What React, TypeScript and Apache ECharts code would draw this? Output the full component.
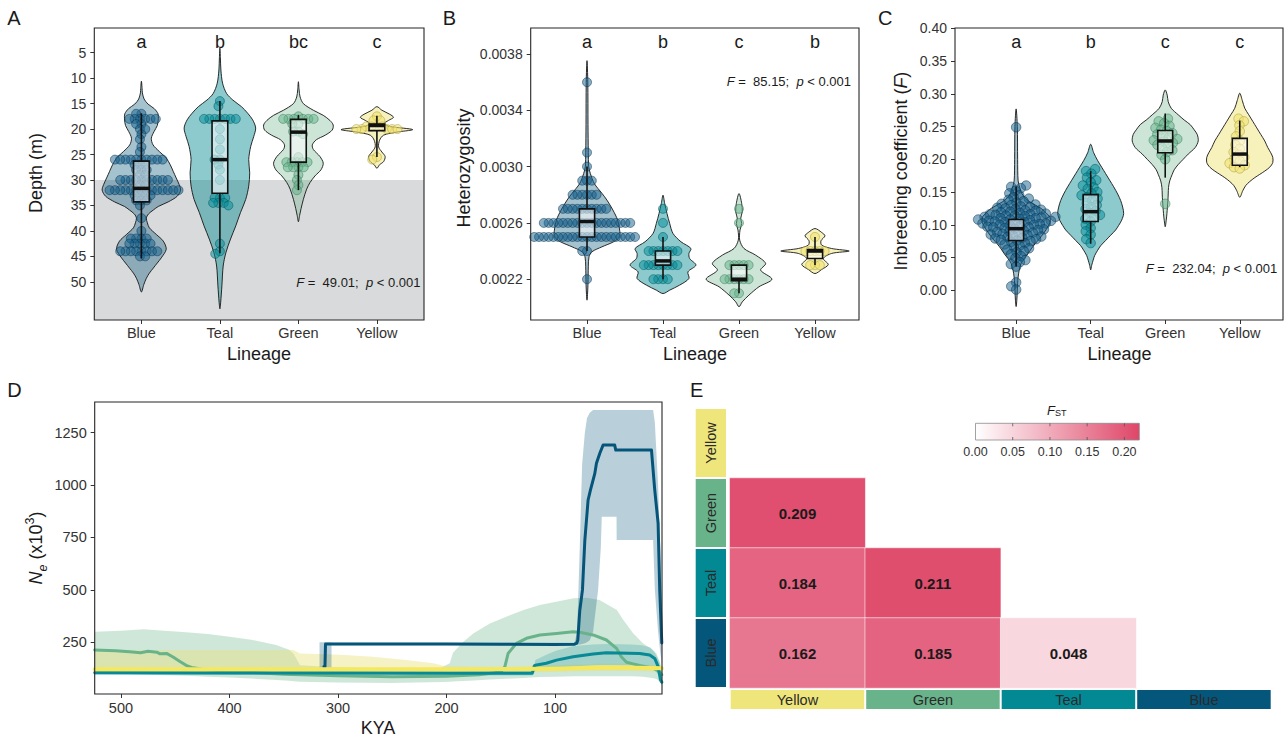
import React, { useEffect, useRef } from 'react';
import * as echarts from 'echarts';

const FONT = '"Liberation Sans", Arial, Helvetica, sans-serif';
const TXT = '#333333';

const lineages = ['Blue', 'Teal', 'Green', 'Yellow'];

// ---------------- Panel A : depth ----------------
const depthTicks = [5, 10, 15, 20, 25, 30, 35, 40, 45, 50];
const depthLetters = ['a', 'b', 'bc', 'c'];
const depthShadeFrom = 30;
// [depth, number of individuals]
const depthBlueCounts = [[17, 2], [18, 6], [19, 2], [20, 2], [21, 1], [22, 1], [23.5, 1], [24.5, 1], [26, 10], [27, 3], [28, 3], [29, 2], [30, 10], [31, 2], [32, 14], [33, 4], [34, 3], [35, 1], [37.5, 1], [40, 1], [41.5, 4], [42.5, 5], [44, 8], [45, 2]];
const depthTealCounts = [[14.5, 1], [15.5, 1], [18, 7], [20, 1], [22, 1], [24, 1], [26, 2], [27, 1], [28, 1], [30, 1], [33.5, 3], [34.5, 3], [35, 1], [42.5, 1], [44, 1], [44.5, 1]];
const depthGreenCounts = [[17.5, 1], [18, 6], [19, 2], [20.5, 2], [21, 1], [25.5, 1], [26.5, 5], [27.5, 4], [29, 1], [30, 1], [31, 1], [32, 1]];
const depthYellowCounts = [[17.5, 1], [18.3, 2], [19.5, 4], [20, 5], [25.5, 1], [26, 1]];
// violin outlines: [depth, relative density]
const depthViolinBlue = [[10.6, 0], [12, 0.7], [12.9, 1], [14.1, 2.7], [15.1, 6.7], [16, 13], [17, 16.7], [18, 17], [19.3, 16], [20.5, 12.7], [21.8, 10], [23.1, 11.7], [24.4, 18], [25.7, 25], [27, 29], [28.3, 32], [29.6, 35], [30.9, 38], [32, 39.5], [33.2, 36], [34.3, 27], [35.2, 17], [35.9, 12], [36.7, 7], [37.5, 5], [38.4, 6], [39.4, 8], [40.7, 15], [42, 22], [43.6, 25], [45.3, 20], [46.3, 16], [47.3, 12], [48.3, 8], [49.3, 5], [50.5, 2.5], [52, 0]];
const depthViolinTeal = [[4.1, 0], [6, 0.5], [8.4, 1], [11, 2.7], [13, 6.7], [14.3, 13], [15.6, 21.7], [16.9, 28], [18.2, 33], [19.8, 36], [21.5, 34], [23.4, 31], [26, 29], [28.6, 30], [31.2, 29], [33.8, 26], [36.4, 20.7], [39, 16], [41.6, 10.7], [44.3, 6], [46.9, 3.3], [50.8, 2], [54, 0.8], [55.3, 0]];
const depthViolinGreen = [[10.7, 0], [12.3, 0.7], [13.7, 1.7], [15, 5], [16.3, 15], [17.3, 25], [18.3, 31.7], [19.2, 35], [20.2, 34], [21.2, 27], [22.1, 18], [23.1, 14], [24, 15], [25.4, 21.7], [26.7, 25], [28, 22.7], [29.2, 16.7], [30.5, 11.7], [31.8, 8.3], [33.8, 5], [35.6, 2.7], [37, 1.2], [38.2, 0]];
const depthViolinYellow = [[15.6, 0], [16.3, 5], [17.1, 13], [17.7, 16.7], [18.3, 11.7], [19, 6.7], [19.5, 13], [20.1, 36], [20.6, 20], [21.2, 6.7], [22.2, 2.7], [23.5, 1.7], [24.5, 5], [25.4, 8.3], [26.4, 6.7], [27, 2.7], [27.7, 0]];
// [lower whisker, q1, median, q3, upper whisker]
const depthBoxes = [[16.9, 26.3, 31.65, 34.3, 45.4], [14.5, 18.4, 26.0, 32.6, 44.4], [17.2, 18.1, 20.6, 26.5, 32.0], [17.4, 19.0, 19.3, 20.3, 25.5]];
const depthStat = { F: '49.01', p: '0.001' };

// ---------------- Panel B : heterozygosity ----------------
const hetTicks = [0.0022, 0.0026, 0.003, 0.0034, 0.0038];
const hetLetters = ['a', 'b', 'c', 'b'];
const hetBlueCounts = [[0.0036, 1], [0.0031, 1], [0.003, 1], [0.0029, 3], [0.0028, 6], [0.0027, 10], [0.0026, 19], [0.0025, 22], [0.0024, 2], [0.0022, 1]];
const hetTealCounts = [[0.0027, 1], [0.0026, 1], [0.0025, 1], [0.0024, 7], [0.0023, 8], [0.0022, 4]];
const hetGreenCounts = [[0.0027, 1], [0.0026, 1], [0.0023, 5], [0.0022, 6], [0.0021, 2]];
const hetYellowCounts = [[0.0025, 1], [0.0024, 5], [0.0023, 3]];
const hetViolinBlue = [[0.003753, 0], [0.0036, 0.8], [0.0033, 1], [0.0031, 1.3], [0.003, 1.7], [0.002952, 3.3], [0.00288, 7.3], [0.00281, 15], [0.002762, 20], [0.002691, 26], [0.00262, 30.7], [0.002549, 32.7], [0.002501, 32.7], [0.002466, 26.7], [0.00243, 15], [0.002395, 5], [0.002359, 2], [0.002288, 1.3], [0.00217, 1], [0.00209, 0.5], [0.002051, 0]];
const hetViolinTeal = [[0.002797, 0], [0.002738, 1.7], [0.002667, 4], [0.002596, 6.7], [0.002525, 10], [0.002466, 18], [0.002418, 28], [0.002383, 26], [0.002347, 26.7], [0.0023, 33], [0.002252, 25], [0.002205, 26], [0.002158, 16.7], [0.002122, 6.7], [0.002098, 0]];
const hetViolinGreen = [[0.002809, 0], [0.002738, 2.7], [0.002679, 3.3], [0.002632, 1.7], [0.002596, 2.7], [0.002549, 1], [0.002478, 0.7], [0.002418, 5], [0.002371, 16.7], [0.002312, 26.7], [0.002264, 21.7], [0.0022, 33], [0.002146, 20], [0.002087, 10], [0.002039, 3.3], [0.002004, 0]];
const hetViolinYellow = [[0.00256, 0], [0.002532, 6.7], [0.002508, 10], [0.002473, 6], [0.002442, 6.7], [0.002418, 16.7], [0.0024, 34.3], [0.002383, 16.7], [0.002347, 8.3], [0.002304, 13.3], [0.002269, 6.7], [0.00224, 0]];
const hetBoxes = [[0.0024, 0.0025, 0.00261, 0.0027, 0.003], [0.0022, 0.0023, 0.00233, 0.0024, 0.0025], [0.0021, 0.00219, 0.0022, 0.0023, 0.0023], [0.0023, 0.002347, 0.0024, 0.002411, 0.0025]];
const hetStat = { F: '85.15', p: '0.001' };

// ---------------- Panel C : inbreeding ----------------
const fTicks = [0, 0.05, 0.1, 0.15, 0.2, 0.25, 0.3, 0.35, 0.4];
const fLetters = ['a', 'b', 'c', 'c'];
const fBlue = [0.249, 0.160, 0.158, 0.156, 0.152, 0.148, 0.145, 0.142, 0.140, 0.138, 0.136, 0.134, 0.132, 0.131, 0.130, 0.128, 0.127, 0.126, 0.125, 0.124, 0.123, 0.122, 0.121, 0.120, 0.119, 0.118, 0.117, 0.116, 0.116, 0.115, 0.114, 0.114, 0.113, 0.112, 0.112, 0.111, 0.110, 0.110, 0.109, 0.108, 0.108, 0.107, 0.106, 0.106, 0.105, 0.104, 0.104, 0.103, 0.102, 0.102, 0.101, 0.100, 0.100, 0.099, 0.098, 0.097, 0.096, 0.096, 0.095, 0.094, 0.093, 0.092, 0.091, 0.090, 0.089, 0.088, 0.087, 0.086, 0.085, 0.084, 0.083, 0.082, 0.081, 0.080, 0.079, 0.078, 0.077, 0.076, 0.075, 0.074, 0.072, 0.070, 0.068, 0.066, 0.064, 0.062, 0.060, 0.058, 0.055, 0.052, 0.049, 0.046, 0.043, 0.040, 0.036, 0.012, 0.006, 0.001];
const fTeal = [0.185, 0.182, 0.178, 0.172, 0.168, 0.165, 0.160, 0.157, 0.155, 0.150, 0.148, 0.145, 0.142, 0.140, 0.137, 0.133, 0.130, 0.127, 0.124, 0.121, 0.118, 0.115, 0.112, 0.109, 0.105, 0.100, 0.095, 0.090, 0.085, 0.078, 0.072];
const fGreen = [0.262, 0.258, 0.255, 0.251, 0.248, 0.245, 0.243, 0.240, 0.238, 0.236, 0.233, 0.231, 0.229, 0.227, 0.225, 0.222, 0.220, 0.217, 0.214, 0.211, 0.207, 0.200, 0.132];
const fYellow = [0.262, 0.258, 0.252, 0.243, 0.235, 0.228, 0.222, 0.216, 0.211, 0.207, 0.203, 0.200, 0.197, 0.194, 0.191, 0.188, 0.186];
const fViolinBlue = [[0.277, 0], [0.25, 1.2], [0.2, 1.5], [0.167, 2], [0.155, 4], [0.147, 6], [0.138, 11], [0.132, 17], [0.125, 25], [0.121, 28], [0.115, 32], [0.111, 34], [0.104, 34], [0.095, 31], [0.086, 27], [0.078, 23], [0.071, 19], [0.063, 15], [0.056, 12], [0.048, 8], [0.041, 5], [0.03, 3], [0.02, 2], [0.01, 1.5], [0, 1.2], [-0.015, 0.7], [-0.025, 0]];
const fViolinTeal = [[0.223, 0], [0.21, 3], [0.198, 7], [0.188, 11], [0.178, 15], [0.168, 19], [0.158, 23], [0.147, 27], [0.137, 30], [0.127, 32], [0.117, 33], [0.107, 31], [0.099, 28], [0.092, 25], [0.084, 20], [0.076, 15], [0.068, 10], [0.061, 7], [0.053, 4], [0.046, 2.5], [0.038, 1], [0.031, 0]];
const fViolinGreen = [[0.306, 0], [0.298, 2], [0.288, 3], [0.278, 6], [0.268, 13], [0.26, 19], [0.253, 25], [0.245, 29], [0.238, 32], [0.228, 33], [0.218, 30], [0.208, 23], [0.2, 18], [0.192, 13], [0.184, 9], [0.177, 7], [0.167, 4.5], [0.157, 3.3], [0.147, 3], [0.137, 2.7], [0.127, 2.2], [0.117, 1.7], [0.107, 1], [0.097, 0]];
const fViolinYellow = [[0.301, 0], [0.29, 2.5], [0.278, 5], [0.268, 9], [0.258, 13], [0.248, 17], [0.238, 21], [0.228, 25], [0.218, 28], [0.21, 31], [0.203, 33], [0.195, 33], [0.188, 30], [0.182, 25], [0.177, 20], [0.172, 15], [0.166, 10], [0.16, 6], [0.152, 3], [0.142, 0]];
const fBoxes = [[0.036, 0.076, 0.094, 0.108, 0.158], [0.071, 0.105, 0.12, 0.146, 0.182], [0.172, 0.21, 0.228, 0.244, 0.27], [0.188, 0.191, 0.208, 0.232, 0.259]];
const fStat = { F: '232.04', p: '0.001' };

// ---------------- Panel D : Ne through time ----------------
const kyaTicks = [100, 200, 300, 400, 500];
const neTicks = [250, 500, 750, 1000, 1250];
// [KYA, Ne x10^3]
const neBlue = [[313, 134], [312, 134], [311.5, 242], [250, 242], [200, 242], [150, 241], [100, 240], [82, 241], [80, 246], [79, 260], [77.2, 400], [74.7, 500], [72.5, 738], [69.5, 929], [67.3, 977], [63.3, 1056], [61.8, 1104], [58.7, 1152], [55.7, 1191], [45, 1191], [44, 1167], [11.1, 1167], [8.1, 977], [5, 819], [3.5, 500], [1.6, 247]];
const neTeal = [[524.2, 105], [400, 104], [300, 103], [200, 102], [121, 102], [119, 138], [117, 142], [108, 150], [98.6, 165], [83.3, 181], [64.9, 194], [52.6, 200], [21.9, 197], [12.7, 189], [8.1, 173], [5, 135], [2.8, 70], [1.6, 60]];
const neGreen = [[524.2, 213], [505, 210], [492, 205], [482, 200], [475, 207], [467, 203], [464, 195], [458, 197], [452, 180], [446, 160], [440, 140], [435, 130], [425, 121], [410, 115], [390, 110], [350, 98], [300, 90], [250, 86], [200, 88], [170, 95], [150, 108], [146.2, 134], [143.2, 197], [135.5, 245], [126.3, 269], [114, 285], [98.6, 292], [83.3, 300], [77.2, 298], [64.9, 285], [52.6, 261], [43.3, 221], [38.9, 181], [34.1, 155], [28, 147], [21.9, 139], [9.6, 126], [3.5, 110], [1.6, 95]];
const neYellow = [[524.2, 121], [400, 121], [300, 121], [200, 121], [150, 122], [100, 124], [60, 128], [30, 128], [10, 127], [1.6, 126]];
// [KYA, lower, upper]
const bandBlue = [[317, 130, 250], [306, 130, 250], [305.9, 236, 248], [82, 236, 248], [79.6, 238, 300], [77.2, 240, 700], [75, 242, 1100], [72.5, 245, 1250], [70.5, 250, 1320], [68, 260, 1345], [64.9, 300, 1358], [60.3, 500, 1358], [57.8, 700, 1358], [56.9, 849, 1358], [43.3, 849, 1358], [43.2, 738, 1358], [9.6, 738, 1358], [8, 500, 1300], [5, 300, 1000], [3, 200, 700], [1.6, 150, 400]];
const bandGreen = [[524.2, 103, 300], [500, 100, 305], [479, 96, 312], [460, 93, 305], [440, 90, 298], [420, 86, 290], [400, 82, 277], [380, 77, 262], [357, 70, 237], [345, 66, 215], [341, 64, 197], [335, 62, 140], [300, 58, 130], [250, 56, 125], [205, 60, 128], [197, 62, 150], [194, 63, 200], [185, 65, 250], [175, 68, 293], [160, 72, 340], [145, 76, 372], [129, 80, 404], [114, 84, 428], [99, 86, 444], [83, 88, 460], [71, 88, 462], [59, 88, 452], [43, 88, 404], [37, 88, 356], [28, 88, 293], [19, 86, 245], [10, 80, 215], [6.5, 75, 197], [3, 60, 150], [1.6, 40, 120]];
const bandYellow = [[524.2, 108, 213], [450, 106, 213], [400, 104, 213], [341, 102, 213], [335, 101, 197], [298, 100, 190], [268, 100, 181], [237, 100, 165], [212, 100, 150], [200, 102, 134], [150, 105, 130], [100, 110, 140], [60, 113, 148], [30, 113, 148], [10, 110, 140], [1.6, 108, 135]];
const bandTeal = [[524.2, 95, 115], [300, 93, 113], [121, 92, 112], [118, 115, 165], [108, 125, 190], [99, 130, 210], [83, 135, 232], [65, 140, 240], [52, 142, 242], [30, 140, 240], [20, 138, 236], [12, 130, 225], [8, 115, 200], [4, 90, 160], [1.6, 60, 100]];

// ---------------- Panel E : pairwise FST ----------------
const fstCols = ['Yellow', 'Green', 'Teal', 'Blue'];
const fstRows = ['Blue', 'Teal', 'Green', 'Yellow'];
const fstPairs: [string, string, number][] = [['Yellow', 'Green', 0.209], ['Yellow', 'Teal', 0.184], ['Green', 'Teal', 0.211], ['Yellow', 'Blue', 0.162], ['Green', 'Blue', 0.185], ['Teal', 'Blue', 0.048]];
const fstLegendTicks = [0, 0.05, 0.1, 0.15, 0.2];
const fstLegendMax = 0.22;

// ---------------- styles ----------------
const violinFill = ['rgba(5,85,122,0.36)', 'rgba(3,137,147,0.45)', 'rgba(106,179,138,0.34)', 'rgba(240,229,122,0.5)'];
const pointFill = ['rgba(20,95,140,0.5)', 'rgba(0,140,150,0.5)', 'rgba(100,178,136,0.5)', 'rgba(240,226,110,0.55)'];
const pointStroke = ['rgba(8,50,80,0.85)', 'rgba(0,85,95,0.85)', 'rgba(55,125,90,0.85)', 'rgba(170,155,55,0.85)'];
const boxColor: Record<string, string> = { Yellow: '#efe67b', Green: '#69b38b', Teal: '#038993', Blue: '#05567b' };

const grids = [
  { left: 94.3, top: 28, width: 329.7, height: 292 },
  { left: 530.7, top: 28, width: 328.3, height: 292 },
  { left: 955, top: 28, width: 328, height: 292 },
  { left: 94.7, top: 402, width: 567.3, height: 292 },
  { left: 729.7, top: 408, width: 542, height: 280 },
];

function expand(pairs: number[][]): number[] {
  const out: number[] = [];
  pairs.forEach(([v, n]) => { for (let k = 0; k < n; k++) out.push(v); });
  return out;
}

function swarm(values: number[], pxPerUnit: number, d: number): number[] {
  const order = values.map((_, i) => i).sort((a, b) => values[a] - values[b]);
  const placed: { x: number; y: number }[] = [];
  const out = new Array(values.length).fill(0);
  for (const i of order) {
    const y = values[i] * pxPerUnit;
    const near = placed.filter((p) => Math.abs(p.y - y) < d);
    const cands = [0];
    near.forEach((p) => {
      const dx = Math.sqrt(Math.max(0, d * d - (p.y - y) * (p.y - y)));
      cands.push(p.x + dx, p.x - dx);
    });
    cands.sort((a, b) => Math.abs(a) - Math.abs(b) || a - b);
    let x = 0;
    for (const c of cands) {
      if (near.every((p) => (p.x - c) * (p.x - c) + (p.y - y) * (p.y - y) >= d * d - 1e-6)) { x = c; break; }
    }
    placed.push({ x, y });
    out[i] = x;
  }
  return out;
}

type Panel = {
  gi: number; xMin: number; xMax: number; yMin: number; yMax: number; inverse: boolean;
  ticks: number[]; fmt: (v: number) => string; hw: number; d: number; size: number;
  points: number[][]; violins: number[][][]; boxes: number[][]; letters: string[];
};

const panels: Panel[] = [
  {
    gi: 0, xMin: 0.4, xMax: 4.6, yMin: 0.15, yMax: 57.5, inverse: true, ticks: depthTicks, fmt: (v) => String(v), hw: 0.5, d: 5.3, size: 9,
    points: [expand(depthBlueCounts), expand(depthTealCounts), expand(depthGreenCounts), expand(depthYellowCounts)],
    violins: [depthViolinBlue, depthViolinTeal, depthViolinGreen, depthViolinYellow], boxes: depthBoxes, letters: depthLetters,
  },
  {
    gi: 1, xMin: 0.259, xMax: 4.579, yMin: 0.00191, yMax: 0.003985, inverse: false, ticks: hetTicks, fmt: (v) => v.toFixed(4), hw: 0.45, d: 4.8, size: 9,
    points: [expand(hetBlueCounts), expand(hetTealCounts), expand(hetGreenCounts), expand(hetYellowCounts)],
    violins: [hetViolinBlue, hetViolinTeal, hetViolinGreen, hetViolinYellow], boxes: hetBoxes, letters: hetLetters,
  },
  {
    gi: 2, xMin: 0.18, xMax: 4.58, yMin: -0.0455, yMax: 0.4006, inverse: false, ticks: fTicks, fmt: (v) => v.toFixed(2), hw: 0.456, d: 5.9, size: 9.5,
    points: [fBlue, fTeal, fGreen, fYellow],
    violins: [fViolinBlue, fViolinTeal, fViolinGreen, fViolinYellow], boxes: fBoxes, letters: fLetters,
  },
];

function panelSeries(p: Panel): any[] {
  const rect = grids[p.gi];
  const catPx = rect.width / (p.xMax - p.xMin);
  const pxPerUnit = rect.height / (p.yMax - p.yMin);
  const panelMax = Math.max(...p.violins.map((v) => Math.max(...v.map((q) => q[1]))));
  const out: any[] = [];
  out.push({
    type: 'custom', xAxisIndex: p.gi, yAxisIndex: p.gi, z: 2, silent: true,
    data: p.violins.map((v, i) => [i + 1, v[0][0]]),
    renderItem: (params: any, api: any) => {
      const i = params.dataIndex;
      const prof = p.violins[i];
      const cat = i + 1;
      const left = prof.map(([v, dd]) => api.coord([cat - (dd / panelMax) * p.hw, v]));
      const right = prof.filter((q) => q[1] > 0).reverse().map(([v, dd]) => api.coord([cat + (dd / panelMax) * p.hw, v]));
      return {
        type: 'polygon', shape: { points: left.concat(right), smooth: 0.3 },
        style: { fill: violinFill[i], stroke: '#151515', lineWidth: 0.9 },
      };
    },
  });
  p.points.forEach((vals, i) => {
    const off = swarm(vals, pxPerUnit, p.d);
    out.push({
      type: 'scatter', xAxisIndex: p.gi, yAxisIndex: p.gi, z: 3, silent: true, symbol: 'circle', symbolSize: p.size,
      data: vals.map((v, k) => [i + 1 + off[k] / catPx, v]),
      itemStyle: { color: pointFill[i], borderColor: pointStroke[i], borderWidth: 0.6, opacity: 1 },
    });
  });
  out.push({
    type: 'custom', xAxisIndex: p.gi, yAxisIndex: p.gi, z: 4, silent: true,
    data: p.boxes.map((b, i) => [i + 1, ...b]),
    renderItem: (params: any, api: any) => {
      const cat = api.value(0);
      const lo = api.value(1), q1 = api.value(2), med = api.value(3), q3 = api.value(4), hi = api.value(5);
      const bw = 0.1;
      const pLo = api.coord([cat, lo]);
      const pHi = api.coord([cat, hi]);
      const pQ1 = api.coord([cat, q1]);
      const pQ3 = api.coord([cat, q3]);
      const a = api.coord([cat - bw, q1]);
      const b = api.coord([cat + bw, q3]);
      const m1 = api.coord([cat - bw, med]);
      const m2 = api.coord([cat + bw, med]);
      const st = { stroke: '#111', lineWidth: 1.6 };
      return {
        type: 'group', children: [
          { type: 'line', shape: { x1: pLo[0], y1: pLo[1], x2: pQ1[0], y2: pQ1[1] }, style: st },
          { type: 'line', shape: { x1: pQ3[0], y1: pQ3[1], x2: pHi[0], y2: pHi[1] }, style: st },
          { type: 'rect', shape: { x: Math.min(a[0], b[0]), y: Math.min(a[1], b[1]), width: Math.abs(b[0] - a[0]), height: Math.abs(b[1] - a[1]) }, style: { fill: 'rgba(255,255,255,0.55)', stroke: '#111', lineWidth: 1.6 } },
          { type: 'line', shape: { x1: m1[0], y1: m1[1], x2: m2[0], y2: m2[1] }, style: { stroke: '#111', lineWidth: 3.5 } },
        ],
      };
    },
  });
  out.push({
    type: 'custom', xAxisIndex: p.gi, yAxisIndex: p.gi, z: 5, silent: true,
    data: p.letters.map((_, i) => [i + 1, p.yMin]),
    renderItem: (params: any, api: any) => {
      const x = api.coord([api.value(0), p.yMin])[0];
      return {
        type: 'text', x, y: params.coordSys.y + 14,
        style: { text: p.letters[params.dataIndex], fontSize: 18, fill: '#1a1a1a', align: 'center', verticalAlign: 'middle', fontFamily: FONT },
      };
    },
  });
  return out;
}

function bandSeries(band: number[][], color: string) {
  return {
    type: 'custom', xAxisIndex: 3, yAxisIndex: 3, z: 2, silent: true, clip: true,
    data: [[band[0][0], band[0][1]]],
    renderItem: (params: any, api: any) => {
      const up = band.map((r) => api.coord([r[0], r[2]]));
      const lo = band.slice().reverse().map((r) => api.coord([r[0], r[1]]));
      return { type: 'polygon', shape: { points: up.concat(lo) }, style: { fill: color } };
    },
  };
}

function lineSeries(data: number[][], color: string, width: number, z: number) {
  return {
    type: 'line', xAxisIndex: 3, yAxisIndex: 3, z, silent: true, data, symbol: 'none', showSymbol: false,
    lineStyle: { color, width, cap: 'round', join: 'round' },
  };
}

const tickStyle = { show: true, length: 4, lineStyle: { color: TXT, width: 1 } };
const labelBase = { color: TXT, fontFamily: FONT, fontSize: 14 };

function catXAxis(gi: number, min: number, max: number) {
  return {
    gridIndex: gi, type: 'value', min, max,
    axisLine: { show: false, onZero: false },
    axisTick: { ...tickStyle, customValues: [1, 2, 3, 4] },
    axisLabel: { ...labelBase, fontSize: 14.5, margin: 5, customValues: [1, 2, 3, 4], formatter: (v: number) => lineages[Math.round(v) - 1] },
    splitLine: { show: false },
  };
}

function valYAxis(p: Panel) {
  return {
    gridIndex: p.gi, type: 'value', min: p.yMin, max: p.yMax, inverse: p.inverse,
    axisLine: { show: false, onZero: false },
    axisTick: { ...tickStyle, customValues: p.ticks },
    axisLabel: { ...labelBase, margin: 8, customValues: p.ticks, formatter: (v: number) => p.fmt(v) },
    splitLine: { show: false },
  };
}

function statText(x: number, y: number, s: { F: string; p: string }) {
  return {
    type: 'text', x, y, z: 20,
    style: {
      text: `{i|F}{t| =  ${s.F};  }{i|p}{t| < ${s.p}}`,
      rich: { i: { fontStyle: 'italic', fontSize: 13, fontFamily: FONT, fill: '#1a1a1a' }, t: { fontSize: 13, fontFamily: FONT, fill: '#1a1a1a' } },
      align: 'right', verticalAlign: 'middle',
    },
  };
}

function plainText(text: string, x: number, y: number, size: number, rot = 0, align = 'center') {
  return { type: 'text', x, y, rotation: rot, z: 20, style: { text, fontSize: size, fontFamily: FONT, fill: '#1a1a1a', align, verticalAlign: 'middle' } };
}

function buildOption(): any {
  const series: any[] = [];
  // Panel A shading (depth beyond threshold)
  series.push({
    type: 'custom', xAxisIndex: 0, yAxisIndex: 0, z: 1, silent: true,
    data: [[1, depthShadeFrom]],
    renderItem: (params: any, api: any) => {
      const cs = params.coordSys;
      const yTop = api.coord([1, api.value(1)])[1];
      return { type: 'rect', shape: { x: cs.x, y: yTop, width: cs.width, height: cs.y + cs.height - yTop }, style: { fill: '#d9dadb' } };
    },
  });
  panels.forEach((p) => series.push(...panelSeries(p)));

  // Panel D
  series.push(bandSeries(bandGreen, 'rgba(106,179,138,0.32)'));
  series.push(bandSeries(bandYellow, 'rgba(230,224,120,0.42)'));
  series.push(bandSeries(bandTeal, 'rgba(3,137,147,0.22)'));
  series.push(bandSeries(bandBlue, 'rgba(5,85,122,0.28)'));
  series.push(lineSeries(neGreen, '#69b38b', 3, 3));
  series.push(lineSeries(neTeal, '#078a95', 3, 3));
  series.push(lineSeries(neBlue, '#05557a', 3, 4));
  series.push(lineSeries(neYellow, '#f5e85c', 4, 5));

  // Panel E
  const heatIdx = series.length;
  series.push({
    type: 'heatmap', xAxisIndex: 4, yAxisIndex: 4, z: 2, silent: true,
    data: fstPairs.map(([c, r, v]) => [fstCols.indexOf(c), fstRows.indexOf(r), v]),
    itemStyle: { borderColor: 'rgba(255,255,255,0.55)', borderWidth: 1 },
    label: { show: true, formatter: (pp: any) => pp.value[2].toFixed(3), fontSize: 15, fontWeight: 'bold', color: '#1a1a1a', fontFamily: FONT },
    emphasis: { disabled: true },
  });
  series.push({
    type: 'custom', xAxisIndex: 4, yAxisIndex: 4, z: 3, silent: true,
    data: lineages.map((l) => [fstCols.indexOf(l), fstRows.indexOf(l)]),
    renderItem: (params: any, api: any) => {
      const name = lineages[params.dataIndex];
      const cs = params.coordSys;
      const xi = api.value(0), yi = api.value(1);
      const cx = api.coord([xi, 0])[0];
      const cy = api.coord([0, yi])[1];
      const sz = api.size([1, 1]);
      const bw = sz[0], bh = sz[1];
      const ts = { text: name, fontSize: 14.5, fontFamily: FONT, fill: '#2a2a2a', align: 'center', verticalAlign: 'middle' };
      return {
        type: 'group', children: [
          { type: 'rect', shape: { x: cx - bw / 2 + 1, y: cs.y + cs.height + 2, width: bw - 2, height: 19 }, style: { fill: boxColor[name] } },
          { type: 'text', x: cx, y: cs.y + cs.height + 11.5, style: ts },
          { type: 'rect', shape: { x: cs.x - 34, y: cy - bh / 2 + 1, width: 30.3, height: bh - 2 }, style: { fill: boxColor[name] } },
          { type: 'text', x: cs.x - 34 + 15.2, y: cy, rotation: Math.PI / 2, style: ts },
        ],
      };
    },
  });

  const xAxis: any[] = [
    catXAxis(0, panels[0].xMin, panels[0].xMax),
    catXAxis(1, panels[1].xMin, panels[1].xMax),
    catXAxis(2, panels[2].xMin, panels[2].xMax),
    {
      gridIndex: 3, type: 'value', min: 1.4, max: 524.2, inverse: true,
      axisLine: { show: false, onZero: false },
      axisTick: { ...tickStyle, customValues: kyaTicks },
      axisLabel: { ...labelBase, fontSize: 14.5, margin: 6, customValues: kyaTicks, formatter: (v: number) => String(v) },
      splitLine: { show: false },
    },
    {
      gridIndex: 4, type: 'category', data: fstCols,
      axisLine: { show: false }, axisTick: { show: false }, axisLabel: { show: false }, splitLine: { show: false },
    },
  ];
  const yAxis: any[] = [
    valYAxis(panels[0]), valYAxis(panels[1]), valYAxis(panels[2]),
    {
      gridIndex: 3, type: 'value', min: 3.3, max: 1396.5,
      axisLine: { show: false, onZero: false },
      axisTick: { ...tickStyle, customValues: neTicks },
      axisLabel: { ...labelBase, fontSize: 14.5, margin: 8, customValues: neTicks, formatter: (v: number) => String(v) },
      splitLine: { show: false },
    },
    {
      gridIndex: 4, type: 'category', data: fstRows,
      axisLine: { show: false }, axisTick: { show: false }, axisLabel: { show: false }, splitLine: { show: false },
    },
  ];

  // FST colour bar legend
  const bx0 = 975.5, bx1 = 1139.3, by0 = 423.3, by1 = 440;
  const legendEls: any[] = [
    {
      type: 'rect', z: 20, shape: { x: bx0, y: by0, width: bx1 - bx0, height: by1 - by0 },
      style: { fill: { type: 'linear', x: 0, y: 0, x2: 1, y2: 0, colorStops: [{ offset: 0, color: '#ffffff' }, { offset: 1, color: '#df4668' }] }, stroke: '#8a8a8a', lineWidth: 0.8 },
    },
    {
      type: 'text', x: 1056.7, y: 410.5, z: 20,
      style: { text: '{i|F}{s|ST}', rich: { i: { fontStyle: 'italic', fontSize: 13, fontFamily: FONT, fill: '#1a1a1a' }, s: { fontSize: 9, fontFamily: FONT, fill: '#1a1a1a', verticalAlign: 'bottom' } }, align: 'center', verticalAlign: 'middle' },
    },
  ];
  fstLegendTicks.forEach((v) => {
    const x = bx0 + (v / fstLegendMax) * (bx1 - bx0);
    if (v > 0) {
      legendEls.push({ type: 'line', z: 21, shape: { x1: x, y1: by0, x2: x, y2: by0 + 3 }, style: { stroke: '#555', lineWidth: 0.8 } });
      legendEls.push({ type: 'line', z: 21, shape: { x1: x, y1: by1 - 3, x2: x, y2: by1 }, style: { stroke: '#555', lineWidth: 0.8 } });
    }
    legendEls.push({ type: 'text', x, y: 451.5, z: 20, style: { text: v.toFixed(2), fontSize: 12.5, fontFamily: FONT, fill: TXT, align: 'center', verticalAlign: 'middle' } });
  });

  const graphic: any[] = [
    plainText('A', 7.3, 18, 20, 0, 'left'),
    plainText('B', 442.7, 18, 20, 0, 'left'),
    plainText('C', 878, 18, 20, 0, 'left'),
    plainText('D', 7.3, 390, 20, 0, 'left'),
    plainText('E', 690, 390, 20, 0, 'left'),
    plainText('Depth (m)', 36, 173, 18, Math.PI / 2),
    plainText('Heterozygosity', 463.5, 168, 18, Math.PI / 2),
    {
      type: 'text', x: 901, y: 171, rotation: Math.PI / 2, z: 20,
      style: { text: '{t|Inbreeding coefficient (}{i|F}{t|)}', rich: { t: { fontSize: 18, fontFamily: FONT, fill: '#1a1a1a' }, i: { fontSize: 18, fontStyle: 'italic', fontFamily: FONT, fill: '#1a1a1a' } }, align: 'center', verticalAlign: 'middle' },
    },
    plainText('Lineage', 259, 353.5, 18),
    plainText('Lineage', 695, 353.5, 18),
    plainText('Lineage', 1119.5, 353.5, 18),
    {
      type: 'text', x: 36, y: 548, rotation: Math.PI / 2, z: 20,
      style: {
        text: '{i|N}{sub|e}{t| (x10}{sup|3}{t|)}',
        rich: {
          i: { fontSize: 18, fontStyle: 'italic', fontFamily: FONT, fill: '#1a1a1a', lineHeight: 26 },
          t: { fontSize: 18, fontFamily: FONT, fill: '#1a1a1a', lineHeight: 26 },
          sub: { fontSize: 12.5, fontStyle: 'italic', fontFamily: FONT, fill: '#1a1a1a', verticalAlign: 'bottom' },
          sup: { fontSize: 12.5, fontFamily: FONT, fill: '#1a1a1a', verticalAlign: 'top' },
        },
        align: 'center', verticalAlign: 'middle',
      },
    },
    plainText('KYA', 378, 728, 18),
    statText(420.5, 282, depthStat),
    statText(851, 81.7, hetStat),
    statText(1277.3, 268.7, fStat),
    ...legendEls,
  ];

  return {
    animation: false,
    backgroundColor: '#ffffff',
    textStyle: { fontFamily: FONT },
    grid: grids.map((g, i) => ({
      ...g, show: i < 4, borderColor: '#262626', borderWidth: 1.1, backgroundColor: 'transparent', z: 10, containLabel: false, outerBoundsMode: 'none',
    })),
    xAxis,
    yAxis,
    visualMap: [{ type: 'continuous', show: false, min: 0, max: fstLegendMax, dimension: 2, seriesIndex: heatIdx, inRange: { color: ['#ffffff', '#df4668'] } }],
    series,
    graphic,
  };
}

export default function App() {
  const ref = useRef<HTMLDivElement>(null);
  useEffect(() => {
    const chart = echarts.init(ref.current as HTMLDivElement, null, { renderer: 'svg' });
    chart.setOption(buildOption());
    return () => chart.dispose();
  }, []);
  return <div ref={ref} style={{ position: 'fixed', left: 0, top: 0, width: 1288, height: 737, background: '#fff' }} />;
}
